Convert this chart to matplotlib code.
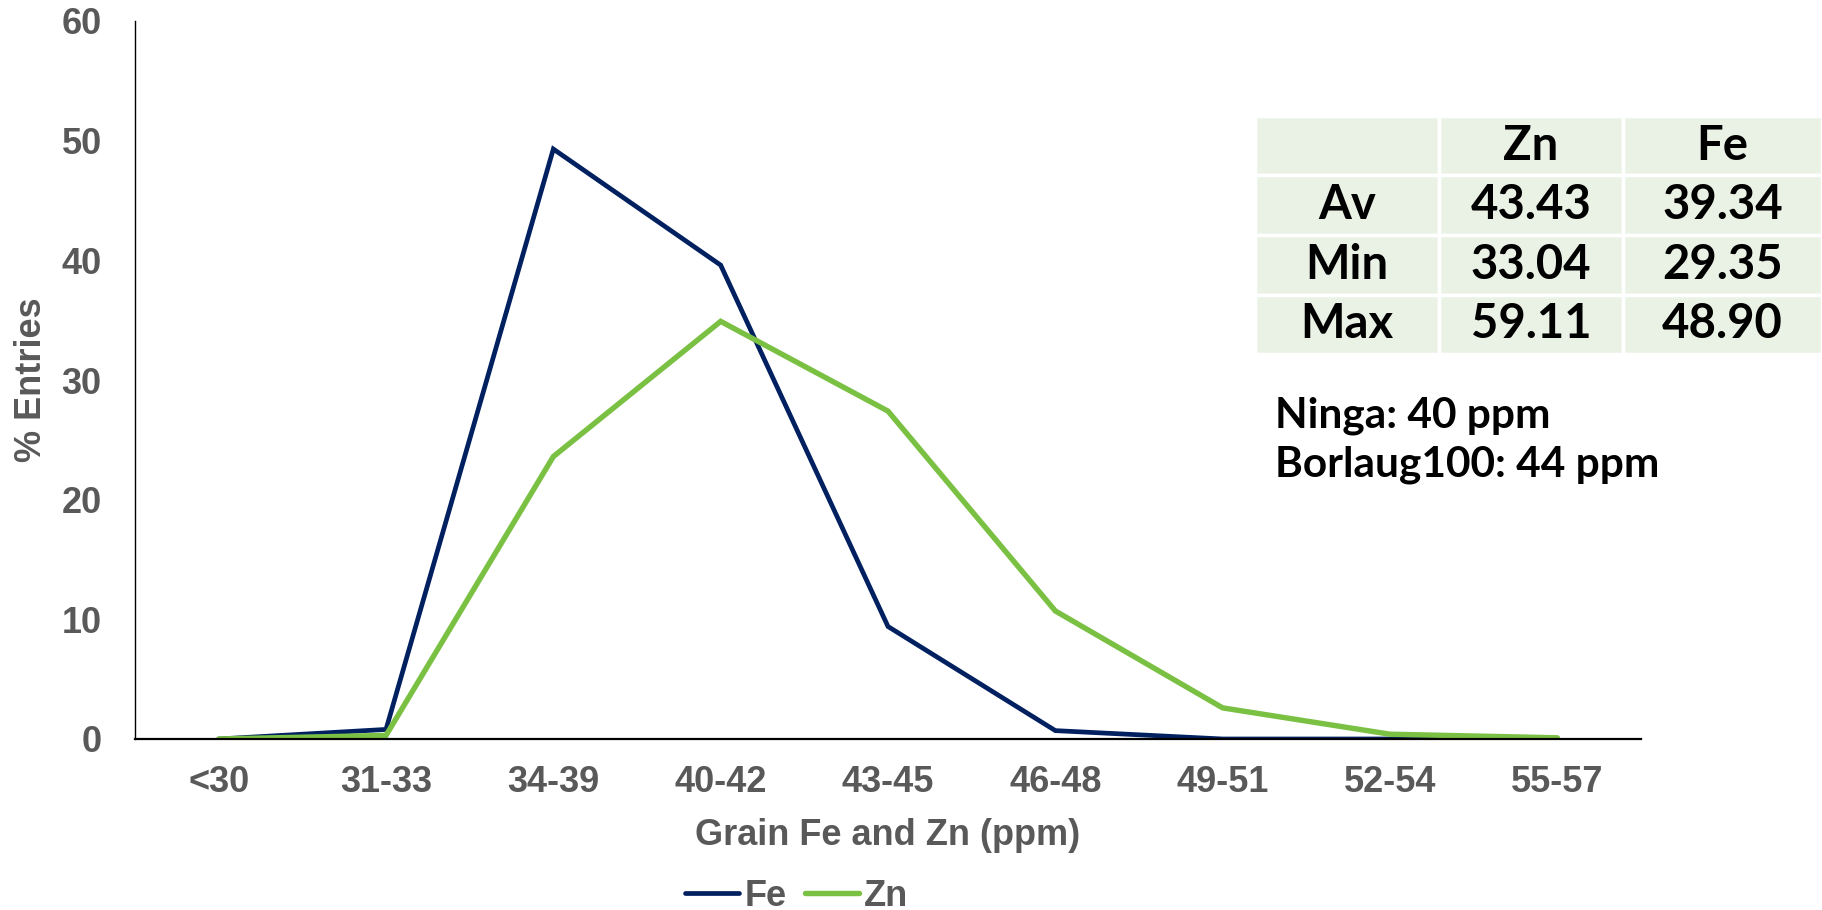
import matplotlib.pyplot as plt

# grain mineral concentration classes (ppm)
classes = ["<30", "31-33", "34-39", "40-42", "43-45", "46-48", "49-51", "52-54", "55-57"]
fe_pct = [0.0, 0.8, 49.3, 39.6, 9.4, 0.7, 0.0, 0.0, 0.0]
zn_pct = [0.0, 0.3, 23.6, 34.9, 27.4, 10.7, 2.6, 0.4, 0.1]

# summary table
col_heads = ["", "Zn", "Fe"]
row_heads = ["Av", "Min", "Max"]
zn_stats = ["43.43", "33.04", "59.11"]
fe_stats = ["39.34", "29.35", "48.90"]

checks = ["Ninga: 40 ppm", "Borlaug100: 44 ppm"]

grey = "#595959"
W, H = 1822, 910

fig = plt.figure(figsize=(W / 100, H / 100), dpi=100)
ax = fig.add_axes([135 / W, 1 - 739 / H, 1506 / W, 718 / H])

x = list(range(len(classes)))
ax.plot(x, fe_pct, color="#002060", lw=3.4, label="Fe",
        solid_joinstyle="miter", solid_capstyle="round")
ax.plot(x, zn_pct, color="#7AC143", lw=3.9, label="Zn",
        solid_joinstyle="miter", solid_capstyle="round")

ax.set_xlim(-0.5, len(classes) - 0.5)
ax.set_ylim(0, 60)
ax.set_yticks([0, 10, 20, 30, 40, 50, 60])
ax.set_xticks(x)
ax.set_xticklabels(classes)

for s in ["top", "right"]:
    ax.spines[s].set_visible(False)
ax.spines["left"].set_linewidth(1.0)
ax.spines["bottom"].set_linewidth(1.6)

ax.tick_params(axis="both", length=0, labelsize=26, labelcolor=grey)
ax.tick_params(axis="x", pad=19)
ax.tick_params(axis="y", pad=24)
for t in ax.get_xticklabels() + ax.get_yticklabels():
    t.set_fontfamily("Liberation Sans")
    t.set_fontweight("bold")

ax.set_xlabel("Grain Fe and Zn (ppm)", fontsize=26, fontweight="bold",
              color=grey, fontfamily="Liberation Sans")
ax.xaxis.label.set_va("center")
ax.xaxis.set_label_coords(0.5, -0.135)
ax.set_ylabel("% Entries", fontsize=26, fontweight="bold",
              color=grey, fontfamily="Liberation Sans")
ax.yaxis.label.set_va("center")
ax.yaxis.set_label_coords(-0.0684, 0.5)

fig.legend(loc="center left", bbox_to_anchor=(685 / W, 1 - 896 / H),
           ncol=2, frameon=False, borderpad=0, borderaxespad=0,
           handlelength=1.5, handletextpad=0.15, columnspacing=0.5,
           prop={"family": "Liberation Sans", "weight": "bold", "size": 26},
           labelcolor=grey)

# stats table in its own axes
tax = fig.add_axes([1255 / W, 1 - 354 / H, (W - 1255) / W, 238 / H])
tax.axis("off")
cells = [col_heads] + [[r, z, f] for r, z, f in zip(row_heads, zn_stats, fe_stats)]
tbl = tax.table(cellText=cells, bbox=[0, 0, 1, 1], cellLoc="center",
                colWidths=[184, 184, 199])
tbl.auto_set_font_size(False)
for (r, c), cell in tbl.get_celld().items():
    cell.set_facecolor("#EAF2E6")
    cell.set_edgecolor("white")
    cell.set_linewidth(2.5)
    cell.get_text().set_fontsize(34)
    cell.get_text().set_fontfamily("Lato")
    cell.get_text().set_fontweight("bold")

for i, line in enumerate(checks):
    fig.text(1275 / W, 1 - (416 + 49 * i) / H, line, fontsize=30.5,
             fontfamily="Lato", fontweight="bold", va="center", ha="left")

fig.savefig("out.png", dpi=100)
